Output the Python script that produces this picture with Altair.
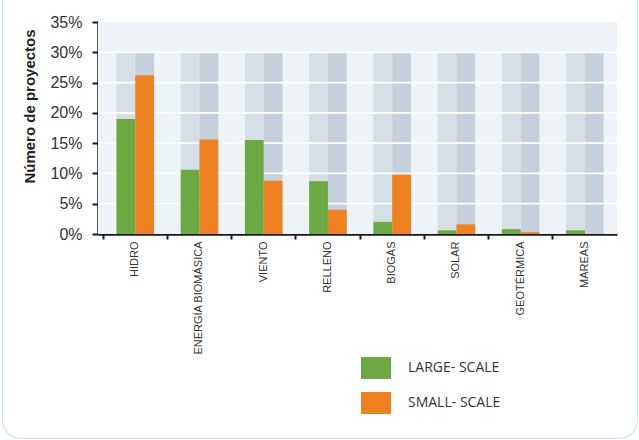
import altair as alt
import pandas as pd

categories = ["HIDRO", "ENERGÍA BIOMÁSICA", "VIENTO", "RELLENO", "BIOGÁS", "SOLAR", "GEOTÉRMICA", "MAREAS"]
series_names = ["LARGE- SCALE", "SMALL- SCALE"]
large_scale = [19.0, 10.6, 15.5, 8.7, 2.0, 0.6, 0.8, 0.6]
small_scale = [26.2, 15.6, 8.8, 4.0, 9.8, 1.6, 0.3, 0.0]
background_level = 30
y_ticks = [0, 5, 10, 15, 20, 25, 30, 35]
grid_values = [5, 10, 15, 20, 25, 30]

rows = []
for c, a, b in zip(categories, large_scale, small_scale):
    rows.append({"cat": c, "series": series_names[0], "value": a, "bg": background_level})
    rows.append({"cat": c, "series": series_names[1], "value": b, "bg": background_level})
df = pd.DataFrame(rows)

xscale = alt.Scale(domain=categories, paddingInner=0, paddingOuter=0.04, align=1)
xoff = alt.XOffset("series:N", sort=series_names,
                   scale=alt.Scale(domain=series_names, paddingInner=0, paddingOuter=0.71))
yscale = alt.Scale(domain=[0, 35], nice=False, zero=True)

x_axis = alt.Axis(title=None, labelAngle=-90, labelAlign="right", labelBaseline="middle",
                  labelFont="Liberation Sans", labelFontSize=11, labelColor="#333333",
                  labelPadding=2, tickSize=5, tickWidth=2, tickColor="#1a1a1a",
                  domainColor="#1a1a1a", domainWidth=2.5, bandPosition=0,
                  grid=False, labelLimit=200, labelOverlap=False)
y_axis = alt.Axis(title="Número de proyectos", values=y_ticks, labelExpr="datum.value + '%'",
                  labelFont="Liberation Sans", labelFontSize=16, labelColor="#333333",
                  labelPadding=10, tickSize=6, tickWidth=2, tickColor="#1a1a1a",
                  domainColor="#1a1a1a", domainWidth=2.5, grid=False,
                  labelOverlap=False, labelFlush=False,
                  titleFont="Liberation Sans", titleFontSize=15, titleFontWeight="bold",
                  titleColor="#222222", titlePadding=12, titleY=84)

plot_bg = alt.Chart(pd.DataFrame({"a": [0]})).mark_rect(fill="#edf3f6").encode(
    x=alt.value(0), x2=alt.value(519), y=alt.value(0), y2=alt.value(212)
)

base = alt.Chart(df)

bg = base.mark_bar().encode(
    x=alt.X("cat:N", scale=xscale, axis=x_axis, sort=categories),
    xOffset=xoff,
    y=alt.Y("bg:Q", scale=yscale, axis=y_axis),
    color=alt.Color("series:N", scale=alt.Scale(domain=series_names, range=["#d7dfe6", "#c5d0dc"]),
                    legend=None),
)

grid = alt.Chart(pd.DataFrame({"g": grid_values})).mark_rule(color="white", strokeWidth=1.8).encode(
    y=alt.Y("g:Q", scale=yscale, axis=y_axis)
)

bars = base.mark_bar().encode(
    x=alt.X("cat:N", scale=xscale, sort=categories, axis=x_axis),
    xOffset=xoff,
    y=alt.Y("value:Q", scale=yscale, axis=y_axis),
    color=alt.Color("series:N", scale=alt.Scale(domain=series_names, range=["#6ca843", "#ee8222"]),
                    legend=alt.Legend(title=None, orient="none", legendX=263, legendY=331,
                                      symbolType="M-1,-0.733L1,-0.733L1,0.733L-1,0.733Z",
                                      symbolSize=900, symbolStrokeWidth=0, symbolOpacity=1,
                                      labelFont="Open Sans", labelFontSize=14, labelColor="#333333",
                                      labelOffset=17, rowPadding=9, padding=0)),
)

frame = alt.Chart(pd.DataFrame({"a": [0]})).mark_rect(
    filled=False, stroke="#c8e6f5", strokeWidth=1.2, cornerRadius=18
).encode(x=alt.value(-95.5), x2=alt.value(539.5), y=alt.value(-60), y2=alt.value(416.5))

chart = alt.layer(frame, plot_bg, bg, grid, bars).resolve_scale(color="independent").properties(
    width=519, height=212,
    background="white",
    autosize=alt.AutoSizeParams(type="none"),
    padding={"left": 98, "top": 22, "right": 22, "bottom": 206},
).configure_view(stroke=None)

chart.save("out.html", embed_options={"renderer": "svg", "actions": False})
